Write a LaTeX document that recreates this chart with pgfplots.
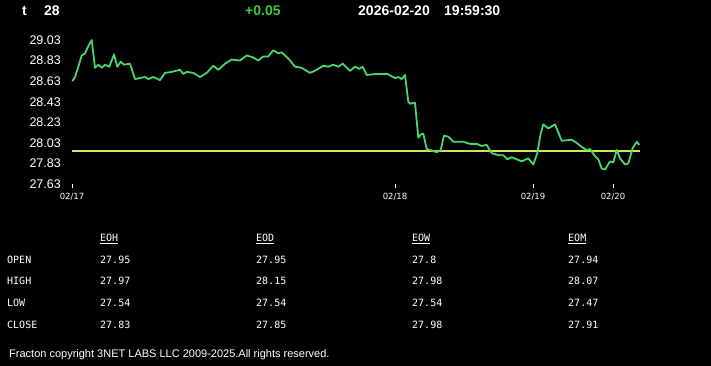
\documentclass[border=0pt]{standalone}
\usepackage{fontspec}
\setmainfont{Liberation Sans}
\newfontfamily\monofont{DejaVu Sans Mono}
\newfontfamily\tickfont{DejaVu Sans}
\usepackage{pgfplots}
\pgfplotsset{compat=1.18}
\definecolor{linegreen}{RGB}{72,214,110}
\definecolor{openyellow}{RGB}{205,228,95}
\definecolor{chggreen}{RGB}{60,200,60}
\begin{document}
\begin{tikzpicture}[x=1pt,y=1pt]
\fill[black] (0,0) rectangle (711,366);
% header
\node[anchor=west,inner sep=0pt,text=white,font=\fontsize{14}{16}\selectfont\bfseries] at (22,355) {t};
\node[anchor=west,inner sep=0pt,text=white,font=\fontsize{14}{16}\selectfont\bfseries] at (44,355) {28};
\node[anchor=west,inner sep=0pt,text=chggreen,font=\fontsize{14}{16}\selectfont\bfseries] at (245,355) {+0.05};
\node[anchor=west,inner sep=0pt,text=white,font=\fontsize{14}{16}\selectfont\bfseries] at (358,355) {2026-02-20};
\node[anchor=west,inner sep=0pt,text=white,font=\fontsize{14}{16}\selectfont\bfseries] at (444,355) {19:59:30};
\begin{axis}[
  at={(72pt,182pt)}, anchor=south west,
  scale only axis, width=568pt, height=144pt,
  xmin=72, xmax=640, ymin=27.63, ymax=29.03,
  clip=false,
  axis line style={draw=none},
  xtick={72,395,533,613},
  xticklabels={02/17,02/18,02/19,02/20},
  xtick pos=bottom,
  tick align=outside,
  xtick style={white, line width=1pt},
  major tick length=4pt,
  xticklabel style={text=white, font=\tickfont\fontsize{8.5}{10}\selectfont, inner sep=0pt, yshift=-5pt},
  ytick={27.63,27.83,28.03,28.23,28.43,28.63,28.83,29.03},
  yticklabels={27.63,27.83,28.03,28.23,28.43,28.63,28.83,29.03},
  ytick style={draw=none},
  yticklabel style={text=white, font=\fontsize{12.5}{14}\selectfont, inner sep=0pt, xshift=-7pt},
]
\addplot[openyellow, line width=1.6pt] coordinates {(72,27.95) (640,27.95)};
\addplot[linegreen, line width=1.8pt, line join=round] coordinates {
(72.3,28.63) (75,28.67) (78.3,28.77) (81.7,28.88) (85,28.90) (88.3,28.97) (91.7,29.03)
(95,28.76) (98.3,28.79) (101.7,28.76) (105,28.79) (109.3,28.77) (114,28.89) (117.3,28.77)
(120.7,28.82) (124,28.79) (130,28.80) (135,28.65) (140,28.66) (145,28.67) (148.3,28.65)
(153.3,28.67) (160,28.64) (165,28.71) (171.7,28.72) (180,28.74) (183.3,28.70) (186.7,28.72)
(193.3,28.71) (200,28.67) (206.7,28.71) (213.3,28.78) (218.3,28.74) (225,28.80) (231.7,28.84)
(240,28.83) (246.7,28.88) (253.3,28.86) (258.3,28.83) (263.3,28.87) (268.3,28.87) (273.3,28.93)
(278.3,28.90) (281.7,28.91) (288.3,28.85) (295,28.77) (301.7,28.76) (310,28.71) (316.7,28.74)
(323.3,28.78) (328.3,28.77) (333.3,28.79) (338.3,28.77) (342.7,28.80) (350,28.73) (355,28.77)
(359.3,28.75) (362.7,28.77) (366.7,28.69) (376.7,28.70) (387.3,28.70) (395,28.66) (398.3,28.67)
(401.7,28.65) (405,28.69) (408.3,28.43) (410,28.41) (415,28.42) (418.3,28.08) (420.7,28.11)
(423.3,28.12) (426.7,27.97) (430,27.96) (436.7,27.94) (440.7,27.96) (444,28.10) (448.3,28.09)
(453.3,28.04) (463.3,28.04) (470,28.02) (476.7,28.02) (481.7,28.00) (486.7,28.01) (491.7,27.93)
(498.3,27.91) (503.3,27.91) (507.3,27.87) (511.7,27.89) (516.7,27.87) (521.7,27.85) (528.3,27.88)
(533.3,27.82) (537.3,27.93) (540.7,28.12) (543.3,28.21) (548.3,28.17) (555,28.21) (561.7,28.05)
(571.7,28.06) (576.7,28.03) (581.7,27.99) (586.7,27.96) (590,27.97) (595,27.90) (598.3,27.87)
(601.7,27.78) (605,27.77) (610,27.85) (613.3,27.84) (616.7,27.96) (620,27.88) (625,27.82)
(628.3,27.83) (632.7,27.98) (636.7,28.04) (639.3,28.01)
};
\end{axis}
% table
\begin{scope}[every node/.style={anchor=base west, inner sep=0pt, text=white, font=\monofont\fontsize{10}{12}\selectfont}]
\node at (100,124) {\underline{EOH}};
\node at (256,124) {\underline{EOD}};
\node at (412,124) {\underline{EOW}};
\node at (568,124) {\underline{EOM}};
\node at (7,102) {OPEN};  \node at (100,102) {27.95}; \node at (256,102) {27.95}; \node at (412,102) {27.8};  \node at (568,102) {27.94};
\node at (7,81)  {HIGH};  \node at (100,81)  {27.97}; \node at (256,81)  {28.15}; \node at (412,81)  {27.98}; \node at (568,81)  {28.07};
\node at (7,59)  {LOW};   \node at (100,59)  {27.54}; \node at (256,59)  {27.54}; \node at (412,59)  {27.54}; \node at (568,59)  {27.47};
\node at (7,37)  {CLOSE}; \node at (100,37)  {27.83}; \node at (256,37)  {27.85}; \node at (412,37)  {27.98}; \node at (568,37)  {27.91};
\end{scope}
\node[anchor=base west, inner sep=0pt, text=white, font=\fontsize{11}{12}\selectfont] at (9,8) {Fracton copyright 3NET LABS LLC 2009-2025.All rights reserved.};
\end{tikzpicture}
\end{document}
